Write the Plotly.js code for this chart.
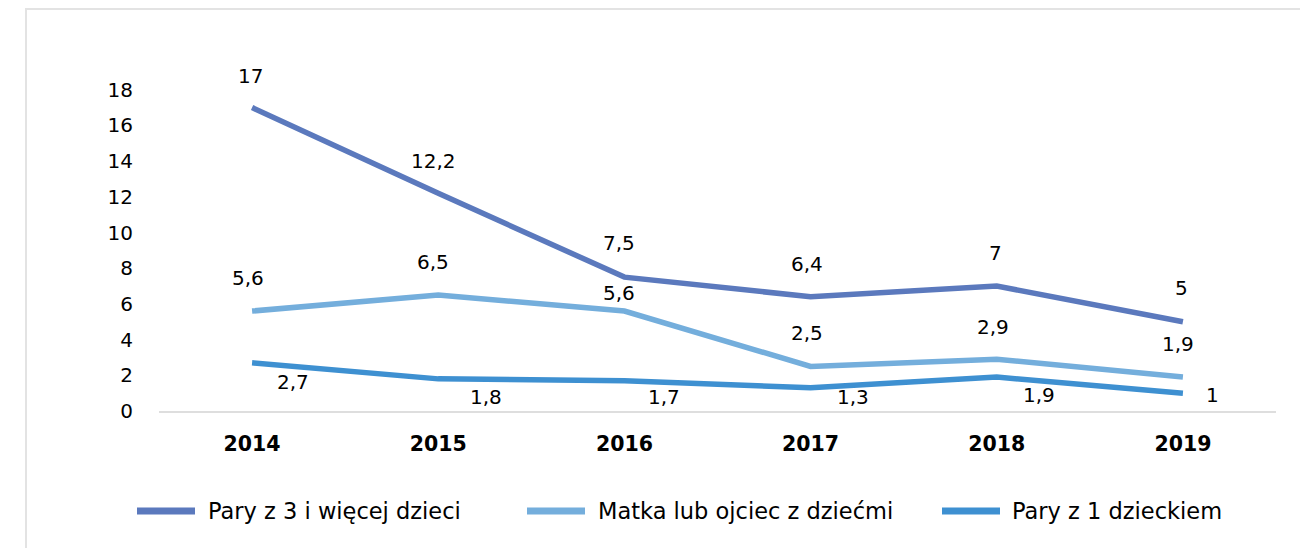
<!DOCTYPE html>
<html>
<head>
<meta charset="utf-8">
<script src="https://cdn.plot.ly/plotly-3.0.1.min.js"></script>
<style>
  html, body { margin: 0; padding: 0; background: #fff; }
  #chart { width: 1300px; height: 548px; }
</style>
</head>
<body>
<div id="chart"></div>
<script>
// ---- data ----
const years = ['2014', '2015', '2016', '2017', '2018', '2019'];
const seriesNames = ['Pary z 3 i więcej dzieci', 'Matka lub ojciec z dziećmi', 'Pary z 1 dzieckiem'];
const pary3 = [17, 12.2, 7.5, 6.4, 7, 5];
const matkaOjciec = [5.6, 6.5, 5.6, 2.5, 2.9, 1.9];
const pary1 = [2.7, 1.8, 1.7, 1.3, 1.9, 1];
const yTickVals = [0, 2, 4, 6, 8, 10, 12, 14, 16, 18];

// ---- style ----
const colors = ['#5B79BD', '#74AEDC', '#3E90D1'];
const FONT = 'DejaVu Sans, Verdana, sans-serif';
const PL = 159, PR = 1276, PT = 54, PB = 411; // plot area in pixels
const pw = PR - PL, ph = PB - PT;
const px2x = p => (p - PL) / pw;
const py2y = p => (PB - p) / ph;

// label offsets (pixels) per series, per point
const labelShift = [
  { dx: [-2, -5, -5, -4, -1, -1], dy: [32, 32, 34, 33, 33, 34] },
  { dx: [-4, -5, -5, -4, -4, -5], dy: [33, 33, 18, 33, 32, 33] },
  { dx: [41, 48, 40, 42, 42, 30], dy: [-19, -18, -16, -9, -18, -2] }
];
// manual legend geometry (pixels)
const legendY = 511;
const legendSwatch = [[137, 195], [527, 585], [942, 1000]];
const legendTextX = [206, 596, 1010];

const allSeries = [pary3, matkaOjciec, pary1];
const idx = years.map((_, i) => i);

const traces = allSeries.map((vals, s) => ({
  type: 'scatter',
  mode: 'lines',
  name: seriesNames[s],
  x: idx,
  y: vals,
  line: { color: colors[s], width: 5.5 },
  hoverinfo: 'skip'
}));

const annotations = [];
allSeries.forEach((vals, s) => {
  vals.forEach((v, i) => {
    annotations.push({
      x: i, y: v, xref: 'x', yref: 'y',
      text: String(v).replace('.', ','),
      showarrow: false,
      xshift: labelShift[s].dx[i],
      yshift: labelShift[s].dy[i],
      font: { family: FONT, size: 20, color: '#000' }
    });
  });
});

const shapes = [
  { type: 'line', xref: 'paper', yref: 'paper',
    x0: px2x(26), x1: px2x(26), y0: py2y(8), y1: py2y(560),
    line: { color: '#e3e3e3', width: 2 } },
  { type: 'line', xref: 'paper', yref: 'paper',
    x0: px2x(25), x1: px2x(1310), y0: py2y(9), y1: py2y(9),
    line: { color: '#e3e3e3', width: 2 } }
];

seriesNames.forEach((name, s) => {
  shapes.push({
    type: 'line', xref: 'paper', yref: 'paper',
    x0: px2x(legendSwatch[s][0]), x1: px2x(legendSwatch[s][1]),
    y0: py2y(legendY), y1: py2y(legendY),
    line: { color: colors[s], width: 7 }
  });
  annotations.push({
    xref: 'paper', yref: 'paper',
    x: px2x(legendTextX[s]), y: py2y(legendY),
    xanchor: 'left', yanchor: 'middle',
    text: name, showarrow: false,
    font: { family: FONT, size: 22.5, color: '#000' }
  });
});

const layout = {
  width: 1300,
  height: 548,
  margin: { l: PL, r: 1300 - PR, t: PT, b: 548 - PB, autoexpand: false },
  paper_bgcolor: '#fff',
  plot_bgcolor: '#fff',
  showlegend: false,
  font: { family: FONT, color: '#000' },
  xaxis: {
    type: 'linear',
    range: [-0.5, 5.5],
    tickvals: idx,
    ticktext: years,
    showgrid: false,
    zeroline: false,
    showline: true,
    linecolor: '#dedede',
    linewidth: 2,
    ticks: '',
    ticklabelstandoff: 13,
    tickfont: { family: FONT, size: 20.5, color: '#000', weight: 'bold' },
    fixedrange: true
  },
  yaxis: {
    range: [0, 20],
    tickvals: yTickVals,
    ticktext: yTickVals.map(String),
    showgrid: false,
    zeroline: false,
    showline: false,
    ticks: '',
    ticklabelstandoff: 25,
    tickfont: { family: FONT, size: 20, color: '#000' },
    fixedrange: true
  },
  annotations: annotations,
  shapes: shapes
};

Plotly.newPlot('chart', traces, layout, { displayModeBar: false, staticPlot: true });
</script>
</body>
</html>
